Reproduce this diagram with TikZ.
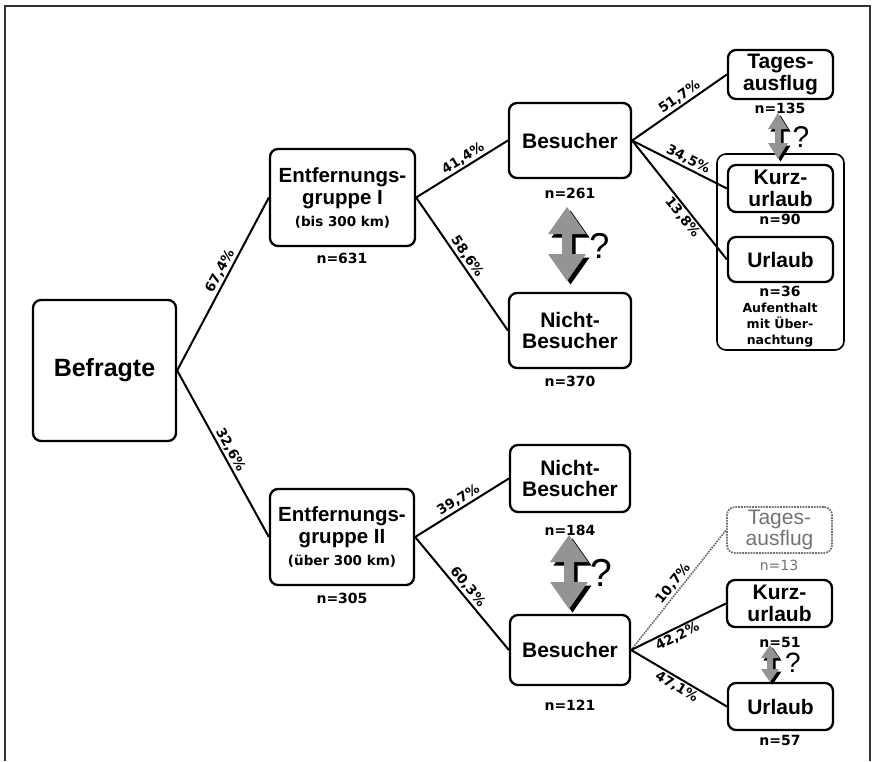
\documentclass[tikz,border=0pt]{standalone}
\usepackage{fontspec}
\setmainfont{Liberation Sans}
\newfontfamily\labelfont{DejaVu Sans}

% vertical double arrow with a dark drop shadow:
% #1 centre x, #2 top y, #3 bottom y, #4 half head width, #5 half shaft width, #6 head length, #7 shadow offset
\newcommand\qarrow[7]{%
  \fill[black, shift={(#7,#7)}] (#1,#2) -- ({#1+#4},{#2+#6}) -- ({#1+#5},{#2+#6}) -- ({#1+#5},{#3-#6})
    -- ({#1+#4},{#3-#6}) -- (#1,#3) -- ({#1-#4},{#3-#6}) -- ({#1-#5},{#3-#6}) -- ({#1-#5},{#2+#6})
    -- ({#1-#4},{#2+#6}) -- cycle;
  \fill[arrowgray] (#1,#2) -- ({#1+#4},{#2+#6}) -- ({#1+#5},{#2+#6}) -- ({#1+#5},{#3-#6})
    -- ({#1+#4},{#3-#6}) -- (#1,#3) -- ({#1-#4},{#3-#6}) -- ({#1-#5},{#3-#6}) -- ({#1-#5},{#2+#6})
    -- ({#1-#4},{#2+#6}) -- cycle;
}

\colorlet{arrowgray}{black!42}

\begin{document}
\begin{tikzpicture}[x=1pt,y=-1pt,
  box/.style={draw, line width=2.3pt, rounded corners=8pt, align=center, inner sep=0pt,
    font=\fontsize{21}{21.5}\selectfont\bfseries},
  egbox/.style={box, font=\fontsize{20.5}{22}\selectfont\bfseries},
  faintbox/.style={draw=black!55, densely dotted, line width=1.8pt, rounded corners=8pt,
    align=center, inner sep=0pt, text=black!55, font=\fontsize{21}{21.5}\selectfont},
  groupbox/.style={draw, line width=1.6pt, rounded corners=9pt, inner sep=0pt},
  nlab/.style={inner sep=0pt, font=\labelfont\bfseries\fontsize{14}{15}\selectfont},
  note/.style={inner sep=0pt, align=center, font=\labelfont\bfseries\fontsize{12.5}{16}\selectfont},
  pct/.style={sloped, inner sep=1.5pt, font=\labelfont\bfseries\fontsize{13.5}{14}\selectfont},
  link/.style={line width=2pt},
  faintlink/.style={draw=black!60, line width=1.6pt, densely dotted},
  qmark/.style={inner sep=0pt}
]
\useasboundingbox (0,0) rectangle (873,761);

% outer frame, open at the bottom
\draw[black!80, line width=2pt] (5,761) -- (5,6) -- (870,6) -- (870,761);

% group frame around the overnight-stay categories
\node[groupbox, minimum width=127pt, minimum height=196pt] (grp) at (780.5,252) {};

% boxes
\node[box, minimum width=143pt, minimum height=141pt,
      font=\fontsize{25}{27}\selectfont\bfseries] (bef) at (104.5,370.5) {Befragte};
\node[egbox, minimum width=145pt, minimum height=97pt] (eg1) at (342.5,197.5)
  {Entfernungs-\\gruppe I\\{\labelfont\fontsize{13.5}{13.5}\selectfont (bis 300 km)}};
\node[egbox, minimum width=144pt, minimum height=96pt] (eg2) at (342,537)
  {Entfernungs-\\gruppe II\\{\labelfont\fontsize{13.5}{13.5}\selectfont (über 300 km)}};

\node[box, minimum width=122pt, minimum height=75pt] (bes1) at (570,140.5) {Besucher};
\node[box, minimum width=122pt, minimum height=75pt] (nb1) at (570,330.5) {Nicht-\\Besucher};
\node[box, minimum width=120pt, minimum height=67pt] (nb2) at (570,478.5) {Nicht-\\Besucher};
\node[box, minimum width=120pt, minimum height=70pt] (bes2) at (570,650) {Besucher};

\node[box, minimum width=105pt, minimum height=49pt] (tag1) at (780.5,74.5) {Tages-\\ausflug};
\node[box, minimum width=105pt, minimum height=47pt] (kurz1) at (780.5,188.5) {Kurz-\\urlaub};
\node[box, minimum width=105pt, minimum height=45pt] (url1) at (780.5,259.5) {Urlaub};

\node[faintbox, minimum width=105pt, minimum height=46pt] (tag2) at (779.5,530) {Tages-\\ausflug};
\node[box, minimum width=105pt, minimum height=47pt] (kurz2) at (779.5,603.5) {Kurz-\\urlaub};
\node[box, minimum width=105pt, minimum height=47pt] (url2) at (780.5,706.5) {Urlaub};

% sample sizes
\node[nlab] (n631) at (342,258) {n=631};
\node[nlab] (n305) at (342,598) {n=305};
\node[nlab] (n261) at (570,193) {n=261};
\node[nlab] (n370) at (570,381) {n=370};
\node[nlab] (n135) at (780,108) {n=135};
\node[nlab] (n90) at (780,219) {n=90};
\node[nlab] (n36) at (780,291) {n=36};
\node[note] (stay) at (780,325) {Aufenthalt\\mit Über-\\nachtung};
\node[nlab] (n184) at (570,530) {n=184};
\node[nlab] (n121) at (570,705) {n=121};
\node[nlab, text=black!55, font=\labelfont\fontsize{14}{15}\selectfont] (n13) at (779,565) {n=13};
\node[nlab] (n51) at (780,642) {n=51};
\node[nlab] (n57) at (780,740) {n=57};

% branches with shares
\draw[link] (bef.east) -- node[pct, above, pos=0.55] {67,4\%} (eg1.west);
\draw[link] (bef.east) -- node[pct, above, pos=0.5] {32,6\%} (eg2.west);
\draw[link] (eg1.east) -- node[pct, above, pos=0.56] {41,4\%} (bes1.west);
\draw[link] (eg1.east) -- node[pct, above, pos=0.48] {58,6\%} (nb1.west);
\draw[link] (eg2.east) -- node[pct, above, pos=0.51] {39,7\%} (nb2.west);
\draw[link] (eg2.east) -- node[pct, above, pos=0.49] {60,3\%} (bes2.west);
\draw[link] (bes1.east) -- node[pct, above, pos=0.55] {51,7\%} (tag1.west);
\draw[link] (bes1.east) -- node[pct, above, pos=0.55] {34,5\%} (kurz1.west);
\draw[link] (bes1.east) -- node[pct, below, pos=0.6] {13,8\%} (url1.west);
\draw[faintlink] (bes2.east) -- node[pct, above, pos=0.51, text=black] {10,7\%} (tag2.west);
\draw[link] (bes2.east) -- node[pct, below, pos=0.45] {42,2\%} (kurz2.west);
\draw[link] (bes2.east) -- node[pct, below, pos=0.52] {47,1\%} (url2.west);

% open questions between categories
\qarrow{567}{207}{281}{19}{5}{27}{3.5}
\qarrow{569}{535}{609}{19}{5}{27}{3.5}
\qarrow{778}{113}{159}{10}{3}{16}{2.5}
\qarrow{770}{645}{682}{9}{3}{13}{2.5}
\node[qmark, font=\fontsize{36}{36}\selectfont] (q1) at (599.5,246) {?};
\node[qmark, font=\fontsize{39}{39}\selectfont] (q2) at (601.5,573) {?};
\node[qmark, font=\fontsize{30}{30}\selectfont] (q3) at (801,137.5) {?};
\node[qmark, font=\fontsize{28}{28}\selectfont] (q4) at (793,663) {?};
\end{tikzpicture}
\end{document}
